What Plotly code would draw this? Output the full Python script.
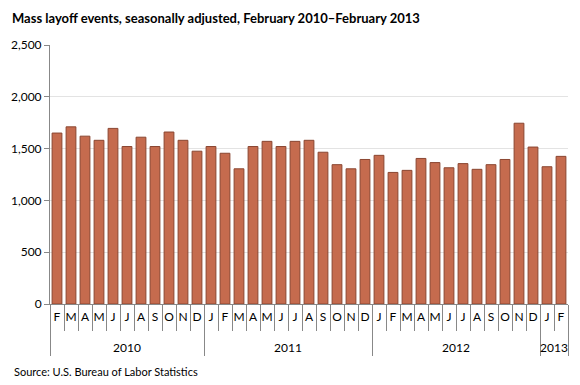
import plotly.graph_objects as go

ZW = "\u200b"
years = ["2010"] * 11 + ["2011"] * 12 + ["2012"] * 12 + ["2013"] * 2
month_letters = ["F", "M", "A", "M", "J", "J", "A", "S", "O", "N", "D",
                 "J", "F", "M", "A", "M", "J", "J", "A", "S", "O", "N", "D",
                 "J", "F", "M", "A", "M", "J", "J", "A", "S", "O", "N", "D",
                 "J", "F"]
values = [1650, 1710, 1620, 1580, 1695, 1520, 1610, 1520, 1660, 1580, 1475,
          1520, 1455, 1305, 1520, 1570, 1520, 1570, 1580, 1465, 1345, 1305, 1395,
          1435, 1270, 1290, 1405, 1365, 1315, 1355, 1300, 1345, 1395, 1745, 1515,
          1325, 1425]

# unique category keys (invisible zero-width spaces keep repeated letters distinct);
# an invisible second line gives the year row the reference's spacing
months = [m + "<br>\u00a0" + ZW * i for i, m in enumerate(month_letters)]
n = len(values)

# page body has an 8px margin, so the figure is sized/offset accordingly
W, H = 572, 377

fig = go.Figure()
fig.add_trace(go.Bar(
    x=[years, months],
    y=values,
    marker=dict(color="#C56B4E", line=dict(color="#8A4631", width=1)),
    hoverinfo="y",
))
# empty helper trace so the overlaid separator axis is drawn
fig.add_trace(go.Scatter(x=[None], y=[None], xaxis="x2", yaxis="y",
                         showlegend=False, hoverinfo="skip"))

fig.update_layout(
    width=W, height=H,
    margin=dict(l=42, r=12, t=37, b=81, autoexpand=False),
    paper_bgcolor="white", plot_bgcolor="white",
    font=dict(family="Lato, Open Sans, sans-serif", size=12, color="#000"),
    bargap=0.3,
    showlegend=False,
    title=dict(text="<b>Mass layoff events, seasonally adjusted, February 2010\u2013February 2013</b>",
               x=4 / W, xanchor="left", xref="container",
               y=1 - 10 / H, yanchor="middle", yref="container",
               font=dict(size=13, color="#000")),
    xaxis=dict(type="multicategory", showline=True, linecolor="#888", linewidth=1,
               ticks="", tickangle=0, ticklabelstandoff=2,
               showdividers=True, dividercolor="#888", dividerwidth=1,
               tickfont=dict(size=12), showgrid=False, automargin=False),
    # month separator ticks drawn by an overlaid linear axis
    xaxis2=dict(overlaying="x", anchor="y", side="bottom", range=[-0.5, n - 0.5],
                tickvals=[i + 0.5 for i in range(n - 1)], ticks="outside", ticklen=26,
                tickcolor="#888", tickwidth=1, showticklabels=False,
                showline=False, showgrid=False, zeroline=False, automargin=False),
    yaxis=dict(range=[0, 2500], tickvals=[0, 500, 1000, 1500, 2000, 2500],
               tickformat=",d", showgrid=True, gridcolor="#e3e3e3",
               showline=True, linecolor="#888", linewidth=1,
               ticks="outside", ticklen=5, tickcolor="#888",
               zeroline=False, tickfont=dict(size=12), automargin=False),
    annotations=[dict(text="Source: U.S. Bureau of Labor Statistics",
                      xref="paper", yref="paper", x=(12 - 50) / 518, y=(304 - 371) / 259,
                      xanchor="left", yanchor="middle", showarrow=False,
                      font=dict(size=11, color="#000"))],
)

fig.write_html("out.html")
